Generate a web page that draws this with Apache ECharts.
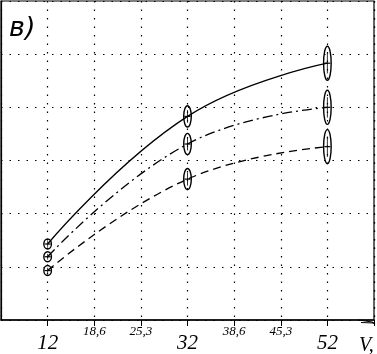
<!DOCTYPE html>
<html>
<head>
<meta charset="utf-8">
<script src="https://cdn.jsdelivr.net/npm/echarts@6/dist/echarts.min.js"></script>
<style>
  html, body { margin: 0; padding: 0; background: #fff; }
  #chart { width: 377px; height: 354px; }
</style>
</head>
<body>
<div id="chart"></div>
<script>
// speed points on the x axis
const speeds = [12, 32, 52]
// three measured curves (arbitrary y units, 6 grid steps)
const solidValues = [1.43, 3.83, 4.83]
const dashDotValues = [1.19, 3.31, 4.0]
const dashedValues = [0.93, 2.65, 3.26]
// half height of the scatter ellipses, in y units
const spread = [0.09, 0.2, 0.32]
// tick labels shown under the axis
const tickLabels = ['12', '18,6', '25,3', '32', '38,6', '45,3', '52']
const bigLabels = ['12', '32', '52']

const step = 20 / 3
const xMin = 12 - step
const xMax = 52 + step

const chart = echarts.init(document.getElementById('chart'))

const labelFor = (v) => {
  const i = Math.round((v - 12) / step)
  return tickLabels[i] || ''
}

const pairs = (vals) => speeds.map((s, i) => [s, vals[i]])

const ellipseSeries = (vals) => ({
  type: 'custom',
  silent: true,
  z: 5,
  data: speeds.map((s, i) => [s, vals[i], spread[i]]),
  renderItem: (params, api) => {
    const x = api.value(0)
    const y = api.value(1)
    const e = api.value(2)
    const c = api.coord([x, y])
    const top = api.coord([x, y + e])
    const bot = api.coord([x, y - e])
    const ry = (bot[1] - top[1]) / 2
    return {
      type: 'group',
      children: [
        {
          type: 'ellipse',
          shape: { cx: c[0], cy: c[1], rx: 3.8, ry: Math.max(ry, 5) },
          style: { fill: 'none', stroke: '#000', lineWidth: 1.4 }
        },
        {
          type: 'line',
          shape: { x1: c[0] - 3, y1: c[1], x2: c[0] + 3, y2: c[1] },
          style: { stroke: '#000', lineWidth: 1.2 }
        },
        {
          type: 'line',
          shape: { x1: c[0], y1: c[1] - ry * 0.6, x2: c[0], y2: c[1] + ry * 0.6 },
          style: { stroke: '#000', lineWidth: 0.8 }
        }
      ]
    }
  }
})

const lineSeries = (vals, type) => ({
  type: 'line',
  data: pairs(vals),
  smooth: 0.45,
  showSymbol: false,
  silent: true,
  lineStyle: { color: '#000', width: 1.3, type }
})

const dotted = { color: '#000', width: 1.2, type: [1.5, 7] }

const option = {
  backgroundColor: '#fff',
  animation: false,
  grid: {
    left: 1,
    right: 1,
    top: 1,
    bottom: 30,
    show: true,
    borderColor: '#000',
    borderWidth: 1.2
  },
  xAxis: [
    {
      type: 'value',
      min: xMin,
      max: xMax,
      interval: step,
      axisLine: { show: true, lineStyle: { color: '#000', width: 1.5 } },
      axisTick: { show: true, length: 6, lineStyle: { color: '#000' } },
      splitLine: { show: true, lineStyle: dotted },
      axisLabel: {
        showMinLabel: false,
        showMaxLabel: false,
        margin: 13,
        formatter: (v) => {
          const t = labelFor(v)
          return bigLabels.includes(t) ? t : ''
        },
        color: '#000',
        fontFamily: 'Liberation Serif',
        fontStyle: 'italic',
        fontSize: 21
      }
    },
    {
      type: 'value',
      position: 'bottom',
      min: xMin,
      max: xMax,
      interval: step,
      axisLine: { show: false },
      axisTick: { show: false },
      splitLine: { show: false },
      axisLabel: {
        showMinLabel: false,
        showMaxLabel: false,
        margin: 5,
        formatter: (v) => {
          const t = labelFor(v)
          return bigLabels.includes(t) ? '' : t
        },
        color: '#000',
        fontFamily: 'Liberation Serif',
        fontStyle: 'italic',
        fontSize: 13
      }
    }
  ],
  yAxis: {
    type: 'value',
    min: 0,
    max: 6,
    interval: 1,
    axisLine: { show: true, lineStyle: { color: '#000', width: 1.2 } },
    axisTick: { show: false },
    axisLabel: { show: false },
    splitLine: { show: true, lineStyle: dotted }
  },
  graphic: [
    {
      type: 'text',
      left: 9,
      top: 15,
      style: {
        text: 'в)',
        font: 'italic 27px "DejaVu Sans"',
        fill: '#000'
      }
    },
    {
      type: 'text',
      left: 359,
      top: 336,
      style: {
        text: 'V,',
        font: 'italic 20px "Liberation Serif"',
        fill: '#000'
      }
    },
    {
      type: 'polyline',
      shape: { points: [[359, 320], [372, 322], [375, 324]] },
      style: { stroke: '#000', lineWidth: 1.2, fill: 'none' }
    },
    {
      type: 'line',
      shape: { x1: 361, y1: 322.5, x2: 374, y2: 323 },
      style: { stroke: '#000', lineWidth: 1 }
    }
  ],
  series: [
    lineSeries(solidValues, 'solid'),
    lineSeries(dashDotValues, [10, 4, 2, 4]),
    lineSeries(dashedValues, [8, 5]),
    ellipseSeries(solidValues),
    ellipseSeries(dashDotValues),
    ellipseSeries(dashedValues)
  ]
}

chart.setOption(option)
</script>
</body>
</html>
